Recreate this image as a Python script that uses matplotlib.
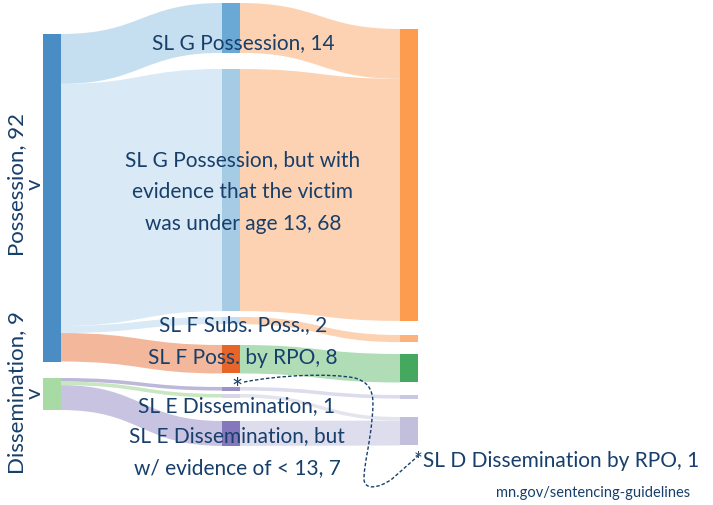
import matplotlib
matplotlib.use("Agg")
from matplotlib import pyplot as plt
from matplotlib.path import Path
from matplotlib.patches import PathPatch, Rectangle

# data
left_labels = ["Possession, 92\nv", "Dissemination, 9\nv"]
left_values = [92, 9]
mid_labels = [
    "SL G Possession, 14",
    "SL G Possession, but with\nevidence that the victim\nwas under age 13, 68",
    "SL F Subs. Poss., 2",
    "SL F Poss. by RPO, 8",
    "*",
    "SL E Dissemination, 1",
    "SL E Dissemination, but\nw/ evidence of < 13, 7",
]
mid_values = [14, 68, 2, 8, 1, 1, 7]
mid_source = [0, 0, 0, 0, 1, 1, 1]
mid_target = [0, 0, 1, 2, 3, 4, 4]
right_values = [82, 2, 8, 1, 8]
footnote = "*SL D Dissemination by RPO, 1"
source_note = "mn.gov/sentencing-guidelines"

# layout (pixels)
K = 3.56  # px per case
NODE_W = 18
col_x = [43, 222, 400]
left_tops = [35, 379]
mid_tops = [4, 70, 318, 346, 388, 395, 422]
right_tops = [30, 336, 355, 396, 418]

left_colors = ["#4a8cc4", "#a8dba4"]
mid_colors = ["#6aa9d5", "#a6cbe4", "#c6dff0", "#e8652a", "#9d93c8", "#d6d6e8", "#8577bb"]
right_colors = ["#fd9b4f", "#fdb27c", "#45a85f", "#c8c8e2", "#c0c0dd"]
in_flow_colors = ["#c6dff0", "#d9e9f5", "#d9e9f5", "#f3b89b", "#bdb7da", "#c8e6c0", "#c9c3e2"]
out_flow_colors = ["#fdd2b2", "#fdd2b2", "#fdd2b2", "#b0dcb6", "#dcdcec", "#e4e4ee", "#dedded"]
TEXT = "#173f6b"
FS = 15

plt.rcParams["font.family"] = ["Lato", "DejaVu Sans"]


def band(ax, x0, a0, b0, x1, a1, b1, color):
    xm = (x0 + x1) / 2
    verts = [(x0, a0), (xm, a0), (xm, a1), (x1, a1),
             (x1, b1), (xm, b1), (xm, b0), (x0, b0), (x0, a0)]
    codes = [Path.MOVETO, Path.CURVE4, Path.CURVE4, Path.CURVE4,
             Path.LINETO, Path.CURVE4, Path.CURVE4, Path.CURVE4, Path.CLOSEPOLY]
    ax.add_patch(PathPatch(Path(verts, codes), facecolor=color,
                           edgecolor="none", zorder=1))


fig = plt.figure(figsize=(7.13, 5.06), dpi=100)
ax = fig.add_axes([0, 0, 1, 1])
ax.set_xlim(0, 713)
ax.set_ylim(506, 0)
ax.axis("off")

# flows
left_off = list(left_tops)
right_off = list(right_tops)
for i, v in enumerate(mid_values):
    h = v * K
    s, t = mid_source[i], mid_target[i]
    m0 = mid_tops[i]
    band(ax, col_x[0] + NODE_W, left_off[s], left_off[s] + h,
         col_x[1], m0, m0 + h, in_flow_colors[i])
    band(ax, col_x[1] + NODE_W, m0, m0 + h,
         col_x[2], right_off[t], right_off[t] + h, out_flow_colors[i])
    left_off[s] += h
    right_off[t] += h

# nodes
for x, tops, vals, cols in [(col_x[0], left_tops, left_values, left_colors),
                            (col_x[1], mid_tops, mid_values, mid_colors),
                            (col_x[2], right_tops, right_values, right_colors)]:
    for y, v, c in zip(tops, vals, cols):
        ax.add_patch(Rectangle((x, y), NODE_W, v * K, facecolor=c,
                               edgecolor="none", zorder=2))

# labels
left_label_y = [184, 393]
for lab, y in zip(left_labels, left_label_y):
    ax.text(26, y, lab, rotation=90, ha="center", va="center",
            multialignment="center", fontsize=16, color=TEXT,
            linespacing=0.85, zorder=3)

mid_label_pos = [(243, 43), (243, 192), (243, 325), (243, 358),
                 (237, 391), (237, 406), (237, 452)]
mid_label_size = [FS, FS, FS, FS, 19, FS, FS]
for lab, (x, y), fs in zip(mid_labels, mid_label_pos, mid_label_size):
    ax.text(x, y, lab, ha="center", va="center", multialignment="center",
            fontsize=fs, color=TEXT, linespacing=1.75, zorder=3)

ax.text(414, 461, footnote, ha="left", va="center", fontsize=FS,
        color=TEXT, zorder=3)
ax.text(593, 493, source_note, ha="center", va="center", fontsize=10.5,
        color=TEXT, zorder=3)

# dashed leader from "*" to footnote
verts = [(244, 383), (280, 376), (330, 374), (355, 379),
         (375, 385), (374, 400), (372, 420),
         (370, 445), (364, 465), (364, 480),
         (364, 491), (378, 490), (392, 480),
         (418, 457)]
codes = [Path.MOVETO] + [Path.CURVE4] * 12 + [Path.LINETO]
ax.add_patch(PathPatch(Path(verts, codes), facecolor="none", edgecolor=TEXT,
                       linestyle=(0, (2.5, 1.5)), linewidth=1.0, zorder=4))

fig.savefig("out.png", dpi=100)
